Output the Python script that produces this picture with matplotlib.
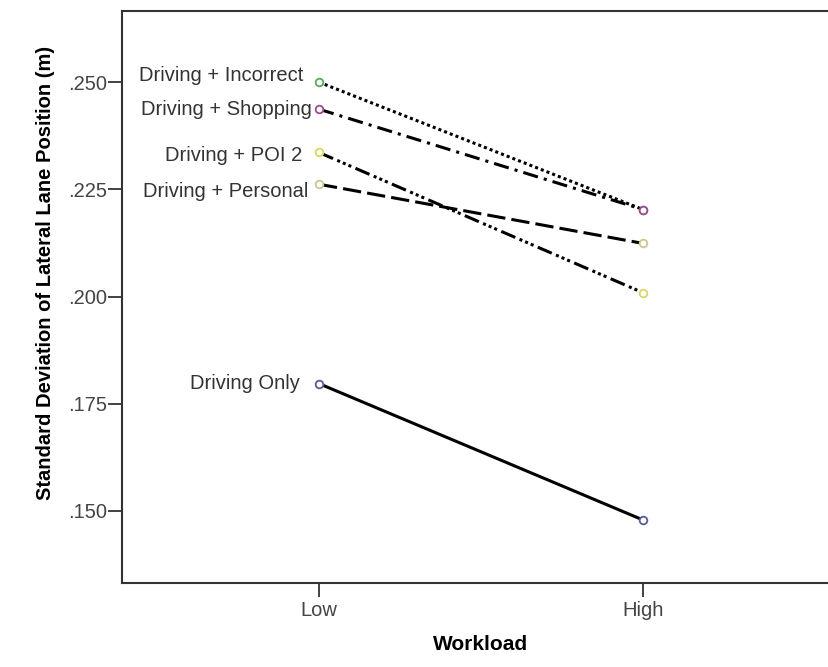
import matplotlib
matplotlib.use("Agg")
import matplotlib.pyplot as plt
import matplotlib.ticker as mticker

# data
workload = ["Low", "High"]
conditions = ["Driving + Incorrect", "Driving + Shopping", "Driving + POI 2",
              "Driving + Personal", "Driving Only"]
sdlp_low = [0.2500, 0.2437, 0.2336, 0.2262, 0.1797]
sdlp_high = [0.2203, 0.2203, 0.2009, 0.2124, 0.1479]
y_ticks = [0.150, 0.175, 0.200, 0.225, 0.250]

# styles
line_styles = [(0, (1, 1)), (0, (5, 2, 1, 2)), (0, (5, 1.5, 1, 1, 1, 1, 1, 1.5)),
               (0, (6, 2)), "-"]
marker_colors = ["#5aa85a", "#9a4a90", "#d8d860", "#c8c890", "#5a5a9a"]
label_offsets = [(-11.5, 5), (-5, 0), (-12, -2), (-8, -5), (-14, 0)]

plt.rcParams["font.family"] = ["Liberation Sans", "DejaVu Sans"]

fig = plt.figure(figsize=(8.29, 6.67), dpi=100)
ax = fig.add_axes([122 / 829, 84 / 667, 718 / 829, 572 / 667])

x = range(len(workload))
for name, lo, hi, ls, mc, off in zip(conditions, sdlp_low, sdlp_high,
                                     line_styles, marker_colors, label_offsets):
    ax.plot(x, [lo, hi], color="black", linewidth=2.2, linestyle=ls, zorder=2)
    ax.plot(x, [lo, hi], linestyle="none", marker="o", markersize=5.5,
            markerfacecolor="white", markeredgecolor=mc, markeredgewidth=1.3, zorder=3)
    ax.annotate(name, xy=(0, lo), xytext=off, textcoords="offset points",
                ha="right", va="center", fontsize=14.5, color="#333333")

ax.set_xlim(-0.608, 1.608)
ax.set_ylim(0.1332, 0.2666)
ax.set_xticks(list(x))
ax.set_xticklabels(workload)
ax.set_yticks(y_ticks)
ax.yaxis.set_major_formatter(mticker.FuncFormatter(lambda v, _: f"{v:.3f}".lstrip("0")))
ax.tick_params(axis="both", direction="out", length=10, width=1.3, labelsize=14.5,
               labelcolor="#444444", color="#333333", pad=1)
ax.tick_params(axis="x", pad=3)
for s in ax.spines.values():
    s.set_linewidth(1.5)
    s.set_color("#333333")

ax.set_xlabel("Workload", fontsize=15, fontweight="bold", labelpad=11)
ax.set_ylabel("Standard Deviation of Lateral Lane Position (m)", fontsize=14.5,
              fontweight="bold")
ax.yaxis.set_label_coords(-0.094, 0.542)

fig.savefig("out.png", dpi=100)
plt.close(fig)
